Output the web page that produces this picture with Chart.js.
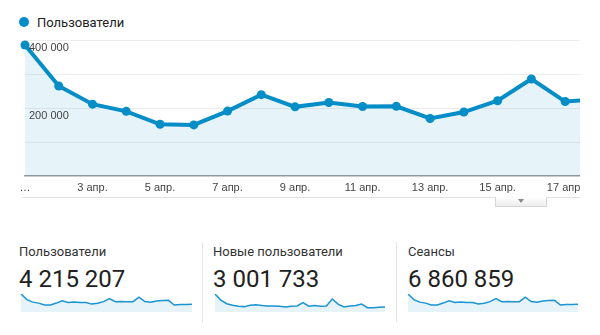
<!DOCTYPE html>
<html lang="ru">
<head>
<meta charset="utf-8">
<title>Пользователи</title>
<script src="https://cdn.jsdelivr.net/npm/chart.js@4.4.1/dist/chart.umd.min.js"></script>
<style>
  html, body { margin: 0; padding: 0; background: #fff; }
  body { width: 600px; height: 335px; position: relative; overflow: hidden; font-family: Roboto, Arial, sans-serif; }

  .legend { position: absolute; left: 19px; top: 14px; height: 16px; display: flex; align-items: center; font-size: 13px; color: #222; }
  .legend .dot { width: 10px; height: 10px; border-radius: 50%; background: #058dc7; margin-right: 8px; }

  #main-wrap { position: absolute; left: 0; top: 0; width: 580px; height: 200px; overflow: hidden; }
  #main-wrap canvas { position: absolute; left: 0; top: 0; }

  .scroll-line { position: absolute; left: 22px; top: 197px; width: 558px; height: 1px; background: #e2e2e2; }
  .scroll-btn { position: absolute; left: 495px; top: 197px; width: 52px; height: 10px; box-sizing: border-box; border: 1px solid #d6d6d6; border-top: none; background: linear-gradient(#fff, #ececec); }
  .scroll-btn::after { content: ''; position: absolute; left: 50%; top: 2px; margin-left: -3px; border-left: 3px solid transparent; border-right: 3px solid transparent; border-top: 4px solid #8a8a8a; }

  .card { position: absolute; top: 242px; height: 80px; }
  .card .title { position: absolute; left: 0; top: 2px; font-size: 13px; line-height: 16px; color: #333; white-space: nowrap; }
  .card .total { position: absolute; left: 0; top: 23px; font-size: 24px; line-height: 28px; color: #212121; white-space: nowrap; }
  .card canvas { position: absolute; top: 50px; }
  .sep { position: absolute; top: 242px; width: 1px; height: 80px; background: #e3e3e3; }
</style>
</head>
<body>

<div class="legend"><span class="dot"></span>Пользователи</div>

<div id="main-wrap"><canvas id="usersChart" width="1014" height="200"></canvas></div>
<div class="scroll-line"></div>
<div class="scroll-btn"></div>

<div class="card" style="left:19px"><div class="title">Пользователи</div><div class="total">4 215 207</div><canvas id="sparkUsers" width="175" height="20" style="left:0px"></canvas></div>
<div class="sep" style="left:202px"></div>
<div class="card" style="left:213px"><div class="title">Новые пользователи</div><div class="total">3 001 733</div><canvas id="sparkNew" width="174" height="20" style="left:0px"></canvas></div>
<div class="sep" style="left:396px"></div>
<div class="card" style="left:408px"><div class="title">Сеансы</div><div class="total">6 860 859</div><canvas id="sparkSessions" width="174" height="20" style="left:-2px"></canvas></div>

<script>
// Дни апреля (ось X)
const days = [
    '1 апр.', '2 апр.', '3 апр.', '4 апр.', '5 апр.', '6 апр.', '7 апр.', '8 апр.', '9 апр.', '10 апр.',
    '11 апр.', '12 апр.', '13 апр.', '14 апр.', '15 апр.', '16 апр.', '17 апр.', '18 апр.', '19 апр.', '20 апр.',
    '21 апр.', '22 апр.', '23 апр.', '24 апр.', '25 апр.', '26 апр.', '27 апр.', '28 апр.', '29 апр.', '30 апр.'
];

// Пользователи по дням
const users = [
    385400, 264800, 211300, 190200, 152100, 150300, 191000, 239200, 203400, 216100,
    204300, 204800, 169200, 188100, 221400, 285300, 219000, 226000, 222100, 221300,
    318200, 222400, 207100, 237300, 244000, 249100, 148200, 162300, 163100, 164200
];

// Новые пользователи по дням
const newUsers = [
    258300, 170200, 118900, 98100, 83000, 77200, 98300, 103100, 93200, 87400,
    87100, 83200, 72100, 83300, 87600, 134200, 83100, 93000, 83200, 87300,
    186100, 113200, 72300, 87100, 93300, 113100, 62200, 62100, 67300, 72100
];

// Сеансы по дням
const sessions = [
    408500, 280700, 224000, 201600, 161200, 159300, 202500, 253600, 215600, 229100,
    216600, 217100, 179400, 199400, 234700, 302400, 232100, 239600, 235400, 234600,
    337300, 235700, 219500, 251500, 258600, 264000, 157100, 172000, 172900, 174100
];

// Подписи оси Y
const yTickLabels = { 200000: '200 000', 400000: '400 000' };

const BLUE = '#058dc7';
// полупрозрачная заливка, чтобы сетка просвечивала
const FILL = 'rgba(5, 141, 199, 0.1)';

Chart.defaults.font.family = 'Arial, "Liberation Sans", sans-serif';
Chart.defaults.font.size = 11;
Chart.defaults.color = '#444';

/**
 * Основной график пользователей
 */
new Chart(document.getElementById('usersChart'), {
    type: 'line',
    data: {
        labels: days,
        datasets: [{
            label: 'Пользователи',
            data: users,
            borderColor: BLUE,
            backgroundColor: FILL,
            borderWidth: 4,
            fill: 'origin',
            tension: 0,
            pointRadius: 4.5,
            pointBackgroundColor: BLUE,
            pointBorderColor: BLUE,
            pointBorderWidth: 0,
            clip: 10
        }]
    },
    options: {
        responsive: false,
        animation: false,
        layout: { padding: { top: 40, right: 10, left: 0, bottom: 0 } },
        plugins: {
            legend: { display: false },
            tooltip: { enabled: false }
        },
        scales: {
            x: {
                offset: false,
                grid: { display: false, drawTicks: false },
                border: { color: '#9a9a9a', width: 1.5 },
                ticks: {
                    autoSkip: false,
                    maxRotation: 0,
                    padding: 5,
                    callback: function(value, index) {
                        if (index === 0) return '…';
                        return index % 2 === 0 ? days[index] : '';
                    }
                },
                afterFit: function(scale) { scale.height = 24; }
            },
            y: {
                min: 0,
                max: 400000,
                grid: {
                    drawTicks: false,
                    color: (ctx) => ctx.tick && ctx.tick.value === 0 ? 'rgba(0,0,0,0)' : '#ededed'
                },
                border: { display: false },
                ticks: {
                    z: 1,
                    stepSize: 100000,
                    autoSkip: false,
                    mirror: true,
                    padding: 4,
                    labelOffset: 8,
                    callback: function(value) {
                        return yTickLabels[value] || '';
                    }
                },
                afterFit: function(scale) { scale.width = 25; }
            }
        }
    }
});

/**
 * Мини-графики под итоговыми значениями
 */
function createSparkline(id, values) {
    new Chart(document.getElementById(id), {
        type: 'line',
        data: {
            labels: days,
            datasets: [{
                data: values,
                borderColor: '#1a94d2',
                backgroundColor: FILL,
                borderWidth: 1.5,
                fill: 'origin',
                tension: 0,
                pointRadius: 0
            }]
        },
        options: {
            responsive: false,
            animation: false,
            layout: { padding: { top: 2, right: 2, left: 2, bottom: 0 } },
            plugins: { legend: { display: false }, tooltip: { enabled: false } },
            scales: {
                x: { display: false, offset: false },
                y: { display: false, min: 0, max: Math.max(...values) }
            }
        }
    });
}

createSparkline('sparkUsers', users);
createSparkline('sparkNew', newUsers);
createSparkline('sparkSessions', sessions);
</script>
</body>
</html>
